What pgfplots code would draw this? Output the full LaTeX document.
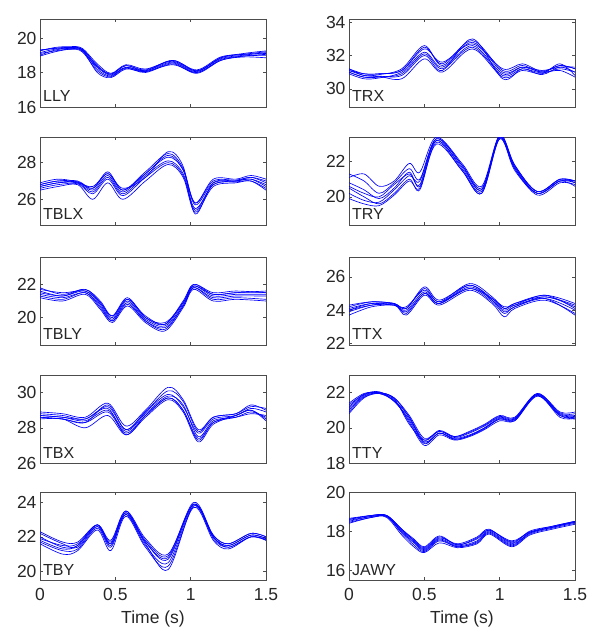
\documentclass[border=0pt]{standalone}
\usepackage{fontspec}
\setmainfont{Liberation Sans}
\usepackage{pgfplots}
\usepackage{pgfplotstable}
\pgfplotsset{compat=1.18}

\pgfplotstableread{
t c1 c2 c3 c4 c5 c6 c7
0 19.0 19.3 19.1 19.25 19.15 18.95 19.3
0.1 19.3 19.4 19.25 19.45 19.35 19.2 19.4
0.2 19.4 19.45 19.35 19.5 19.4 19.35 19.45
0.28 19.35 19.3 19.2 19.4 19.25 19.3 19.35
0.38 18.4 18.2 18.1 18.5 18.3 18.0 18.35
0.47 17.9 17.8 17.75 17.95 17.85 17.7 17.9
0.57 18.4 18.3 18.25 18.45 18.3 18.2 18.4
0.7 18.15 18.05 18.0 18.2 18.1 18.05 18.1
0.88 18.7 18.55 18.5 18.65 18.6 18.45 18.7
1.04 18.1 18.0 17.95 18.1 18.05 18.0 18.15
1.2 18.85 18.75 18.7 18.8 18.85 18.7 18.9
1.35 19.05 18.95 18.9 19.0 19.1 18.95 19.05
1.5 19.2 19.0 18.85 19.15 19.25 19.05 19.1
}\tLLY

\pgfplotstableread{
t c1 c2 c3 c4 c5 c6 c7
0 31.2 31.0 31.1 30.9 31.2 31.0 31.1
0.1 30.9 30.7 30.8 30.6 30.8 30.7 30.9
0.2 30.9 30.7 30.75 30.65 30.85 30.75 30.9
0.35 31.1 30.9 30.6 31.0 31.2 30.8 31.1
0.5 32.5 32.1 31.8 32.2 32.6 32.0 32.4
0.62 31.5 31.2 31.0 31.3 31.4 31.1 31.6
0.82 32.9 32.5 32.4 32.6 32.8 33.0 32.7
1.02 31.1 30.8 30.7 30.9 31.0 30.6 31.2
1.15 31.4 31.2 31.1 31.3 31.3 31.2 31.5
1.28 31.0 30.95 30.9 31.1 31.0 30.85 31.05
1.4 31.4 31.2 31.5 31.3 31.1 31.3 31.4
1.5 31.2 31.0 30.8 31.3 30.7 31.0 31.2
}\tTRX

\pgfplotstableread{
t c1 c2 c3 c4 c5 c6 c7
0 26.8 26.6 26.7 26.5 26.9 26.7 26.8
0.12 27.0 26.8 26.9 26.7 27.1 26.9 27.0
0.25 27.0 26.85 26.95 26.8 26.95 26.9 26.9
0.35 26.6 26.3 26.5 26.0 26.6 26.4 26.7
0.45 27.5 27.1 27.3 26.9 27.4 27.2 27.4
0.55 26.5 26.2 26.4 26.0 26.5 26.3 26.6
0.7 27.5 27.2 27.4 27.0 27.4 27.3 27.2
0.85 28.5 28.0 28.3 27.9 28.4 28.1 28.6
0.95 27.7 27.3 27.6 27.2 27.6 27.4 27.8
1.03 25.8 25.4 25.7 25.3 25.8 25.5 25.2
1.15 27.0 26.8 26.9 26.7 27.1 26.8 26.9
1.3 27.05 26.95 27.0 26.9 27.1 27.0 27.0
1.4 27.2 27.0 27.2 27.0 27.3 27.1 27.1
1.5 27.0 26.6 26.9 26.5 27.1 26.7 26.8
}\tTBLX

\pgfplotstableread{
t c1 c2 c3 c4 c5 c6 c7
0 21.3 21.1 20.8 20.5 20.2 19.9 20.6
0.1 20.9 21.3 20.4 20.0 19.8 19.6 20.2
0.2 20.2 20.6 19.9 19.6 19.7 19.5 20.0
0.3 20.8 20.9 20.5 20.2 20.4 20.1 20.7
0.4 21.6 21.9 21.4 21.0 21.2 20.9 21.3
0.47 21.0 21.4 20.6 20.4 20.9 20.5 20.7
0.58 23.3 23.4 23.2 23.1 23.2 23.0 23.3
0.75 21.8 21.9 21.6 21.5 21.7 21.5 21.8
0.88 20.5 20.6 20.3 20.2 20.4 20.2 20.4
1.0 23.4 23.5 23.4 23.3 23.4 23.3 23.5
1.1 21.7 21.8 21.6 21.5 21.7 21.6 21.8
1.25 20.2 20.3 20.1 20.2 20.3 20.2 20.3
1.4 20.9 21.0 20.8 20.9 21.0 20.9 21.0
1.5 20.9 20.8 20.7 20.6 20.9 20.8 20.9
}\tTRY

\pgfplotstableread{
t c1 c2 c3 c4 c5 c6 c7
0 21.8 21.3 21.5 21.2 21.7 21.4 21.6
0.15 21.4 21.1 21.3 21.0 21.5 21.2 21.3
0.3 21.7 21.5 21.6 21.4 21.6 21.5 21.7
0.4 21.0 20.6 20.8 20.5 20.9 20.7 20.9
0.48 20.1 19.8 19.9 19.7 20.0 19.8 20.1
0.58 21.1 20.9 21.0 20.7 21.1 20.8 21.2
0.7 20.0 19.8 19.9 19.7 20.1 19.8 20.0
0.83 19.7 19.3 19.5 19.2 19.6 19.4 19.6
0.95 20.9 20.7 20.8 20.6 20.9 20.7 21.0
1.02 22.0 21.8 21.9 21.7 21.9 21.8 22.0
1.15 21.4 21.1 21.3 21.0 21.4 21.2 21.5
1.3 21.5 21.2 21.4 21.1 21.5 21.3 21.6
1.5 21.6 21.1 21.4 21.0 21.5 21.3 21.5
}\tTBLY

\pgfplotstableread{
t c1 c2 c3 c4 c5 c6 c7
0 24.2 23.9 24.0 24.3 23.7 24.1 24.0
0.15 24.5 24.3 24.4 24.5 24.2 24.4 24.3
0.3 24.4 24.3 24.35 24.4 24.3 24.3 24.4
0.38 24.1 23.9 23.7 24.1 24.0 24.2 23.8
0.5 25.3 25.0 24.9 25.4 25.1 25.2 25.0
0.6 24.5 24.4 24.3 24.6 24.4 24.5 24.4
0.8 25.6 25.3 25.2 25.5 25.4 25.3 25.5
0.95 24.8 24.5 24.4 24.7 24.6 24.7 24.6
1.03 24.1 23.8 23.6 24.1 24.0 24.2 23.9
1.1 24.4 24.2 24.1 24.4 24.3 24.3 24.2
1.3 24.9 24.7 24.6 24.8 24.9 24.7 24.8
1.5 24.4 24.0 23.8 24.3 24.1 23.7 24.2
}\tTTX

\pgfplotstableread{
t c1 c2 c3 c4 c5 c6 c7
0 28.9 28.6 28.5 28.8 28.7 28.6 28.7
0.15 28.8 28.5 28.5 28.7 28.6 28.5 28.6
0.3 28.6 28.3 28.0 28.5 28.4 28.3 28.5
0.45 29.4 28.9 28.7 29.2 29.0 29.3 29.1
0.57 28.1 27.7 27.6 27.9 27.8 27.9 27.6
0.7 29.0 28.7 28.6 28.9 28.8 28.9 28.7
0.85 30.3 29.7 29.6 29.9 29.8 30.1 29.7
0.95 29.6 29.0 28.9 29.2 29.3 29.5 29.0
1.05 27.9 27.4 27.2 27.7 27.5 27.8 27.3
1.15 28.6 28.3 28.2 28.5 28.4 28.6 28.3
1.3 28.8 28.6 28.7 28.7 28.6 28.8 28.7
1.4 29.2 28.9 29.0 29.1 28.8 29.3 29.0
1.5 29.1 28.6 28.4 28.9 28.7 29.0 28.5
}\tTBX

\pgfplotstableread{
t c1 c2 c3 c4 c5 c6 c7
0 21.4 21.0 20.8 21.2 21.3 21.1 20.9
0.1 21.95 21.8 21.7 21.9 21.9 21.85 21.75
0.2 22.0 21.95 21.95 22.0 22.05 22.0 21.95
0.3 21.7 21.5 21.6 21.7 21.5 21.65 21.55
0.4 20.7 20.4 20.3 20.6 20.5 20.2 20.6
0.5 19.4 19.1 19.0 19.3 19.2 19.3 19.15
0.6 19.8 19.7 19.6 19.8 19.7 19.85 19.7
0.7 19.5 19.35 19.3 19.45 19.4 19.5 19.35
0.8 19.8 19.55 19.5 19.7 19.6 19.75 19.55
0.9 20.2 19.95 19.9 20.1 20.0 20.15 20.0
1.0 20.7 20.5 20.4 20.6 20.55 20.65 20.5
1.1 20.6 20.4 20.4 20.5 20.45 20.55 20.5
1.25 21.95 21.85 21.8 21.9 21.9 21.95 21.85
1.4 20.9 20.7 20.7 20.8 20.75 20.85 20.6
1.5 20.9 20.6 20.5 20.7 20.65 20.8 20.55
}\tTTY

\pgfplotstableread{
t c1 c2 c3 c4 c5 c6 c7
0 22.3 21.7 22.0 21.6 21.9 22.2 21.8
0.15 21.7 21.2 21.4 21.0 21.5 21.6 21.3
0.25 21.7 21.3 21.5 21.2 21.6 21.4 21.5
0.38 22.7 22.5 22.6 22.4 22.7 22.6 22.7
0.47 21.7 21.4 21.6 21.2 21.6 21.5 21.8
0.57 23.5 23.3 23.4 23.2 23.4 23.3 23.5
0.7 21.9 21.5 21.7 21.4 21.8 21.6 21.7
0.85 21.0 20.5 20.8 20.3 20.9 20.1 20.7
1.02 23.9 23.8 23.9 23.7 24.0 23.8 23.9
1.15 22.1 21.9 22.0 21.8 22.1 22.0 22.0
1.25 21.6 21.4 21.5 21.3 21.6 21.4 21.5
1.4 22.2 22.0 22.1 22.0 22.2 22.0 22.1
1.5 22.0 21.8 21.9 21.8 22.0 21.85 21.9
}\tTBY

\pgfplotstableread{
t c1 c2 c3 c4 c5 c6 c7
0 18.65 18.45 18.55 18.4 18.6 18.5 18.6
0.15 18.8 18.7 18.75 18.7 18.8 18.75 18.8
0.25 18.8 18.75 18.75 18.7 18.8 18.75 18.8
0.35 18.1 17.9 18.0 17.8 18.05 17.95 18.1
0.43 17.6 17.3 17.45 17.2 17.55 17.4 17.5
0.5 17.2 16.95 17.05 16.9 17.15 17.0 17.1
0.6 17.75 17.5 17.6 17.4 17.7 17.55 17.65
0.72 17.3 17.2 17.25 17.15 17.3 17.2 17.35
0.85 17.65 17.4 17.5 17.35 17.6 17.45 17.7
0.93 18.05 17.9 18.0 17.85 18.05 17.95 18.1
1.08 17.5 17.25 17.35 17.2 17.45 17.3 17.4
1.2 17.95 17.85 17.9 17.8 17.95 17.9 18.0
1.35 18.2 18.15 18.2 18.1 18.25 18.2 18.25
1.5 18.5 18.4 18.45 18.35 18.5 18.45 18.5
}\tJAWY

\pgfplotsset{
  panel/.style={
    scale only axis, width=226pt, height=88pt, anchor=south west,
    xmin=0, xmax=1.5, xtick={0,0.5,1,1.5}, xticklabels={},
    ytick distance=2, tick align=inside, tick pos=both,
    major tick length=3pt,
    axis line style={black!70}, every tick/.style={black!70},
    tick label style={font=\fontsize{17.5}{17.5}\selectfont, text=black!85},
    xticklabel style={yshift=-5pt},
    /pgf/number format/assume math mode=true,
    label style={font=\fontsize{17.5}{17.5}\selectfont, text=black!85},
    xlabel style={yshift=-3pt},
  },
  bottom/.style={xticklabels={0,0.5,1,1.5}, xlabel={Time (s)}},
  curve/.style={color=blue, line width=0.65pt, smooth, tension=0.55, no markers},
}

\newcommand{\panel}[7]{%
\begin{axis}[panel, at={(#1pt,#2pt)}, ymin=#3, ymax=#4, #7]
\pgfplotsinvokeforeach{1,2,3,4,5,6,7}{\addplot[curve] table[x=t,y=c##1]{#5};}
\node[anchor=base west, font=\fontsize{16}{16}\selectfont, text=black!85, inner sep=0pt]
  at ([xshift=3pt,yshift=5pt]rel axis cs:0,0) {#6};
\end{axis}}

\begin{document}
\begin{tikzpicture}
\path[use as bounding box] (0,0) rectangle (592pt,630pt);
\panel{40}{523}{16}{21.1}{\tLLY}{LLY}{}
\panel{349}{523}{28.9}{34.2}{\tTRX}{TRX}{}
\panel{40}{405}{24.6}{29.4}{\tTBLX}{TBLX}{}
\panel{349}{405}{18.4}{23.4}{\tTRY}{TRY}{}
\panel{40}{285}{18.35}{23.65}{\tTBLY}{TBLY}{}
\panel{349}{285}{21.9}{27.2}{\tTTX}{TTX}{}
\panel{40}{167}{26}{31}{\tTBX}{TBX}{}
\panel{349}{167}{18}{23}{\tTTY}{TTY}{}
\panel{40}{50}{19.5}{24.6}{\tTBY}{TBY}{bottom}
\panel{349}{50}{15.5}{20}{\tJAWY}{JAWY}{bottom}
\end{tikzpicture}
\end{document}
